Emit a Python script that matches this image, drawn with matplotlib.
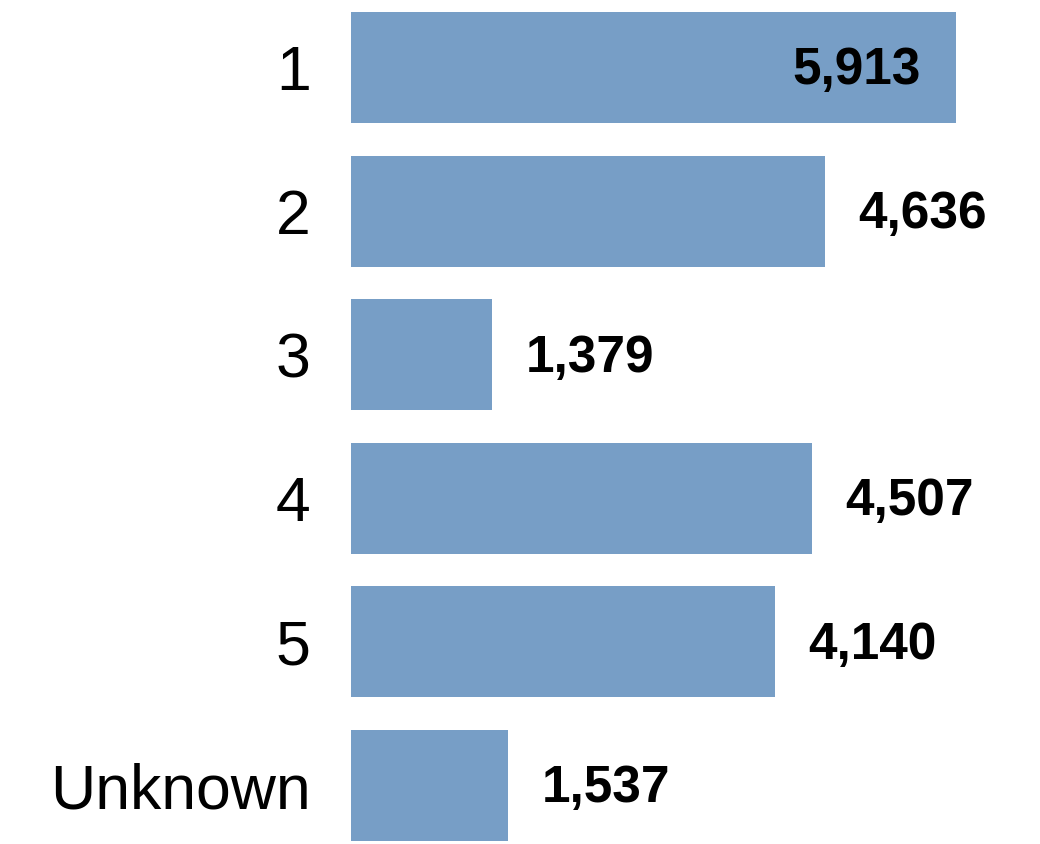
import matplotlib.pyplot as plt

categories = ['1', '2', '3', '4', '5', 'Unknown']
counts = [5913, 4636, 1379, 4507, 4140, 1537]

bar_color = '#779ec6'

plt.rcParams['font.family'] = ['Liberation Sans', 'DejaVu Sans']

fig = plt.figure(figsize=(10.4, 8.44), dpi=100)
ax = fig.add_axes([351 / 1040, 0, 1 - 351 / 1040, 1])

y = list(range(len(categories)))
bars = ax.barh(y, counts, height=0.773, color=bar_color)

ax.set_xlim(0, 689 / 0.1023)
ax.set_ylim(5 + 58.5 / 143.6, -67.5 / 143.6)
ax.set_yticks(y)
ax.set_yticklabels(categories, fontsize=45)
ax.tick_params(axis='y', length=0, pad=29)
ax.set_xticks([])
for side in ax.spines.values():
    side.set_visible(False)

# longest bar gets its label inside, the rest sit just past the bar end
longest = max(counts)
for yi, val in zip(y, counts):
    if val == longest:
        ax.annotate(f'{val:,}', (val, yi), xytext=(-25, -2.5), textcoords='offset points',
                    ha='right', va='center', fontsize=37, fontweight='bold')
    else:
        ax.annotate(f'{val:,}', (val, yi), xytext=(24, -2.5), textcoords='offset points',
                    ha='left', va='center', fontsize=37, fontweight='bold')

fig.savefig('out.png', dpi=100)
